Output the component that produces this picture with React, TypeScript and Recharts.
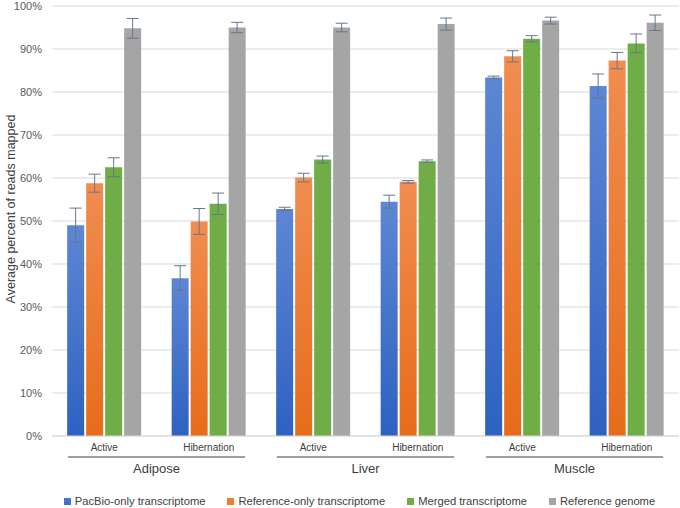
import { BarChart, Bar, XAxis, YAxis, CartesianGrid, ErrorBar, Legend } from "recharts";

// categories
const groups = ["Adipose", "Adipose", "Liver", "Liver", "Muscle", "Muscle"];
const states = ["Active", "Hibernation", "Active", "Hibernation", "Active", "Hibernation"];

// series values (percent of reads mapped)
const pacbio = [49.0, 36.7, 52.8, 54.5, 83.4, 81.4];
const refOnly = [58.8, 49.9, 60.1, 59.1, 88.3, 87.3];
const merged = [62.5, 54.0, 64.3, 63.9, 92.4, 91.3];
const genome = [94.8, 95.0, 95.0, 95.8, 96.6, 96.1];

// error bar half-widths
const pacbioErr = [4.0, 2.9, 0.4, 1.5, 0.3, 2.8];
const refOnlyErr = [2.1, 3.0, 1.0, 0.3, 1.3, 1.9];
const mergedErr = [2.2, 2.5, 0.8, 0.3, 0.7, 2.2];
const genomeErr = [2.3, 1.2, 1.0, 1.4, 0.8, 1.8];

const yTicks = [0, 10, 20, 30, 40, 50, 60, 70, 80, 90, 100];

const seriesNames = [
    "PacBio-only transcriptome",
    "Reference-only transcriptome",
    "Merged transcriptome",
    "Reference genome",
];
const legendColors = ["#4472c4", "#ed7d31", "#70ad47", "#a5a5a5"];

const data = groups.map((g, i) => ({
    group: g,
    state: states[i],
    pacbio: pacbio[i],
    refOnly: refOnly[i],
    merged: merged[i],
    genome: genome[i],
    pacbioErr: pacbioErr[i],
    refOnlyErr: refOnlyErr[i],
    mergedErr: mergedErr[i],
    genomeErr: genomeErr[i],
}));

const W = 680;
const H = 508;
const LEFT = 52;
const RIGHT = 1;
const GROUP_W = (W - LEFT - RIGHT) / 3;
const FONT = "'Liberation Sans', Arial, sans-serif";

const GroupTick = (props: any) => {
    const { x, y, payload } = props;
    const half = GROUP_W * 0.424;
    return (
        <g>
            <line x1={x - half} x2={x + half} y1={y + 3} y2={y + 3} stroke="#404040" strokeWidth={1} />
            <text x={x} y={y + 19} textAnchor="middle" fontSize={13} fill="#404040" fontFamily={FONT}>
                {payload.value}
            </text>
        </g>
    );
};

const YLabel = (props: any) => {
    const vb = props.viewBox;
    const cx = 11;
    const cy = vb.y + vb.height / 2 - 12;
    return (
        <text
            x={cx}
            y={cy}
            transform={`rotate(-90, ${cx}, ${cy})`}
            textAnchor="middle"
            dominantBaseline="central"
            fontSize={12.5}
            fill="#404040"
            fontFamily={FONT}
        >
            Average percent of reads mapped
        </text>
    );
};

const LegendContent = () => (
    <div
        style={{
            display: "flex",
            justifyContent: "center",
            gap: 22,
            fontFamily: FONT,
            fontSize: 11.2,
            color: "#404040",
            paddingLeft: 40,
            paddingTop: 5,
            whiteSpace: "nowrap",
        }}
    >
        {seriesNames.map((n, i) => (
            <span key={n} style={{ display: "flex", alignItems: "center", flexShrink: 0 }}>
                <span style={{ width: 7, height: 7, background: legendColors[i], marginRight: 4, display: "inline-block" }} />
                {n}
            </span>
        ))}
    </div>
);

export default function App() {
    return (
        <div style={{ position: "absolute", left: 0, top: 0, width: W, height: H, background: "#fff" }}>
            <BarChart
                width={W}
                height={H}
                data={data}
                margin={{ top: 6, right: RIGHT, left: 0, bottom: 0 }}
                barCategoryGap="14.5%"
                barGap={2}
            >
                <defs>
                    <linearGradient id="gBlue" x1="0" y1="0" x2="0" y2="1">
                        <stop offset="0%" stopColor="#5d87d4" />
                        <stop offset="100%" stopColor="#2e61c1" />
                    </linearGradient>
                    <linearGradient id="gOrange" x1="0" y1="0" x2="0" y2="1">
                        <stop offset="0%" stopColor="#f08d50" />
                        <stop offset="100%" stopColor="#e76c1a" />
                    </linearGradient>
                </defs>
                <CartesianGrid vertical={false} stroke="#d9d9d9" xAxisId="level1" />
                <XAxis
                    xAxisId="level1"
                    dataKey="state"
                    height={18}
                    tickLine={false}
                    axisLine={{ stroke: "#d9d9d9" }}
                    tick={{ fontSize: 10, fill: "#404040", fontFamily: FONT }}
                    interval={0}
                />
                <XAxis
                    xAxisId="level2"
                    dataKey="group"
                    allowDuplicatedCategory={false}
                    height={36}
                    tickLine={false}
                    axisLine={false}
                    tickSize={0}
                    tickMargin={0}
                    tick={<GroupTick />}
                    interval={0}
                />
                <YAxis
                    width={LEFT}
                    domain={[0, 100]}
                    ticks={yTicks}
                    tickFormatter={(v: number) => `${v}%`}
                    axisLine={false}
                    tickLine={false}
                    tickMargin={4}
                    tick={{ fontSize: 11, fill: "#595959", fontFamily: FONT }}
                    label={{ content: <YLabel /> }}
                />
                <Legend verticalAlign="bottom" height={18} content={<LegendContent />} />
                <Bar xAxisId="level1" dataKey="pacbio" name={seriesNames[0]} fill="url(#gBlue)" isAnimationActive={false}>
                    <ErrorBar dataKey="pacbioErr" width={6} stroke="#66778c" strokeWidth={1} />
                </Bar>
                <Bar xAxisId="level1" dataKey="refOnly" name={seriesNames[1]} fill="url(#gOrange)" isAnimationActive={false}>
                    <ErrorBar dataKey="refOnlyErr" width={6} stroke="#66778c" strokeWidth={1} />
                </Bar>
                <Bar xAxisId="level1" dataKey="merged" name={seriesNames[2]} fill="#70ad47" isAnimationActive={false}>
                    <ErrorBar dataKey="mergedErr" width={6} stroke="#66778c" strokeWidth={1} />
                </Bar>
                <Bar xAxisId="level1" dataKey="genome" name={seriesNames[3]} fill="#a5a5a5" isAnimationActive={false}>
                    <ErrorBar dataKey="genomeErr" width={6} stroke="#66778c" strokeWidth={1} />
                </Bar>
            </BarChart>
        </div>
    );
}
